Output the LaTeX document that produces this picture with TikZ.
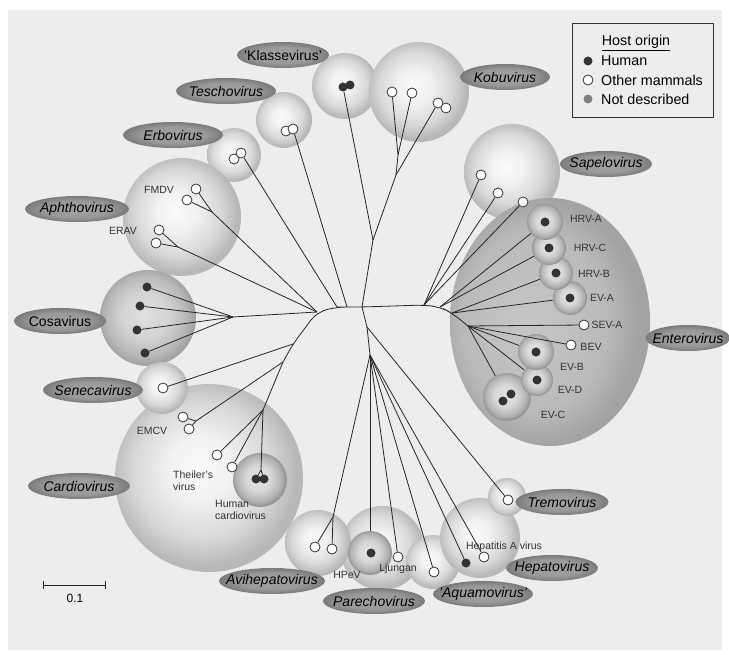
\documentclass[tikz,border=0pt]{standalone}
\usepackage{fontspec}
\setmainfont{Liberation Sans}
\usetikzlibrary{shapes}

\pgfdeclareradialshading{sphere}{\pgfpoint{-3bp}{3bp}}{color(0bp)=(black!2); color(8bp)=(black!5); color(18bp)=(black!15); color(25bp)=(black!28); color(50bp)=(black!28)}
\pgfdeclareradialshading{midsphere}{\pgfpoint{-2bp}{2bp}}{color(0bp)=(black!12); color(12bp)=(black!17); color(21bp)=(black!28); color(25bp)=(black!36); color(50bp)=(black!36)}
\pgfdeclareradialshading{subsphere}{\pgfpoint{-2bp}{2bp}}{color(0bp)=(black!10); color(12bp)=(black!16); color(21bp)=(black!30); color(25bp)=(black!42); color(50bp)=(black!42)}
\pgfdeclareradialshading{entero}{\pgfpoint{-6bp}{0bp}}{color(0bp)=(black!22); color(18bp)=(black!27); color(25bp)=(black!36); color(50bp)=(black!36)}
\pgfdeclareradialshading{tagshade}{\pgfpoint{0bp}{0bp}}{color(0bp)=(black!36); color(16bp)=(black!40); color(25bp)=(black!52); color(50bp)=(black!52)}
\newcommand{\cladename}[1]{\makebox[0pt]{#1}}

\begin{document}
\begin{tikzpicture}[x=1pt, y=-1pt]
\tikzstyle{spherer}=[circle, inner sep=0pt, shade, shading=sphere]
\tikzstyle{subspherer}=[circle, inner sep=0pt, shade, shading=subsphere]
\tikzstyle{tagc}=[ellipse, inner sep=0pt, minimum height=26pt, shade, shading=tagshade, font=\fontsize{14}{17}\selectfont]
\tikzstyle{leafh}=[circle, fill=black!80, inner sep=0pt, minimum size=9pt]
\tikzstyle{leafo}=[circle, draw=black!80, fill=white, line width=0.8pt, inner sep=0pt, minimum size=10pt]
\tikzstyle{leafn}=[circle, fill=black!50, inner sep=0pt, minimum size=9pt]
\tikzstyle{namec}=[font=\fontsize{10.5}{12}\selectfont, text=black!80, inner sep=0pt]
\tikzstyle{legc}=[font=\fontsize{14.3}{17}\selectfont, inner sep=0pt]
\tikzstyle{drawstyle}=[line width=0.8pt, black!85]

% background
\fill[white] (0,0) rectangle (729,655);
\fill[black!7] (8,10) rectangle (722,650);
\useasboundingbox (0,0) rectangle (729,655);

% clade spheres
\node[spherer, minimum size=66pt] (SKla) at (345,86) {};
\node[spherer, minimum size=100pt] (SKob) at (419,92) {};
\node[spherer, minimum size=56pt] (STes) at (284,120) {};
\node[spherer, minimum size=54pt] (SErb) at (234,155) {};
\node[spherer, minimum size=118pt] (SAph) at (182,217) {};
\node[spherer, minimum size=188pt] (SCar) at (209,478) {};
\node[subspherer, minimum size=54pt] (SHca) at (260,480) {};
\node[circle, inner sep=0pt, shade, shading=midsphere, minimum size=96pt] (SCos) at (148,318) {};
\node[spherer, minimum size=52pt] (SSen) at (162,388) {};
\node[spherer, minimum size=84pt] (SPar) at (382,548) {};
\node[spherer, minimum size=66pt] (SAvi) at (318,543) {};
\node[subspherer, minimum size=44pt] (SHpe) at (370,553) {};
\node[spherer, minimum size=54pt] (SAqu) at (433,562) {};
\node[spherer, minimum size=80pt] (SHep) at (480,538) {};
\node[spherer, minimum size=38pt] (STre) at (507,497) {};
\node[spherer, minimum size=96pt] (SSap) at (512,172) {};
\node[ellipse, inner sep=0pt, shade, shading=entero, minimum width=200pt, minimum height=248pt] (SEnt) at (550,322) {};

% clade names
\node[tagc, minimum width=92pt] (TKla) at (283,55) {\cladename{'Klassevirus'}};
\node[tagc, minimum width=100pt] (TTes) at (226,91) {\cladename{\itshape Teschovirus}};
\node[tagc, minimum width=100pt] (TErb) at (173,135) {\cladename{\itshape Erbovirus}};
\node[tagc, minimum width=104pt] (TAph) at (77,209) {\cladename{\itshape Aphthovirus}};
\node[tagc, minimum width=92pt] (TCos) at (60,321) {\cladename{Cosavirus}};
\node[tagc, minimum width=100pt] (TSen) at (93,390) {\cladename{\itshape Senecavirus}};
\node[tagc, minimum width=102pt] (TCar) at (79,486) {\cladename{\itshape Cardiovirus}};
\node[tagc, minimum width=106pt] (TAvi) at (272,581) {\cladename{\itshape Avihepatovirus}};
\node[tagc, minimum width=102pt] (TPar) at (374,601) {\cladename{\itshape Parechovirus}};
\node[tagc, minimum width=100pt] (TAqu) at (483,594) {\cladename{\itshape 'Aquamovirus'}};
\node[tagc, minimum width=92pt] (THep) at (552,568) {\cladename{\itshape Hepatovirus}};
\node[tagc, minimum width=93pt] (TTre) at (562,502) {\cladename{\itshape Tremovirus}};
\node[tagc, minimum width=85pt] (TEnt) at (688,338) {\cladename{\itshape Enterovirus}};
\node[tagc, minimum width=92pt] (TSap) at (606,164) {\cladename{\itshape Sapelovirus}};
\node[tagc, minimum width=90pt] (TKob) at (505,77) {\cladename{\itshape Kobuvirus}};

% enterovirus species spheres
\node[subspherer, minimum size=48pt] (EVC) at (507,397) {};
\node[subspherer, minimum size=32pt] (EVD) at (537,380) {};
\node[subspherer, minimum size=36pt] (EVB) at (536,352) {};
\node[subspherer, minimum size=34pt] (EVA) at (570,298) {};
\node[subspherer, minimum size=34pt] (HRVB) at (556,273) {};
\node[subspherer, minimum size=34pt] (HRVC) at (549,248) {};
\node[subspherer, minimum size=36pt] (HRVA) at (545,222) {};

% leaves
\node[leafh] (Kla1) at (343,87) {};
\node[leafh] (Kla2) at (350,85) {};
\node[leafo] (Kob1) at (392,92) {};
\node[leafo] (Kob2) at (412,93) {};
\node[leafo] (Kob3) at (438,103) {};
\node[leafo] (Kob4) at (446,108) {};
\node[leafo] (Tes1) at (286,131) {};
\node[leafo] (Tes2) at (293,129) {};
\node[leafo] (Erb1) at (234,159) {};
\node[leafo] (Erb2) at (241,153) {};
\node[leafo] (Fmd1) at (196,189) {};
\node[leafo] (Fmd2) at (187,200) {};
\node[leafo] (Era1) at (159,230) {};
\node[leafo] (Era2) at (156,243) {};
\node[leafh] (Cos1) at (147,287) {};
\node[leafh] (Cos2) at (140,306) {};
\node[leafh] (Cos3) at (137,330) {};
\node[leafh] (Cos4) at (145,353) {};
\node[leafo] (Sen1) at (163,388) {};
\node[leafo] (Emc1) at (183,417) {};
\node[leafo] (Emc2) at (189,429) {};
\node[leafo] (The1) at (217,455) {};
\node[leafo] (The2) at (232,467) {};
\node[leafh] (Hca1) at (256,479) {};
\node[leafh] (Hca2) at (264,479) {};
\node[leafo] (Avi1) at (315,547) {};
\node[leafo] (Avi2) at (332,549) {};
\node[leafh] (Hpe1) at (371,553) {};
\node[leafo] (Lju1) at (398,557) {};
\node[leafo] (Aqu1) at (434,572) {};
\node[leafh] (Hep1) at (466,563) {};
\node[leafo] (Hep2) at (484,557) {};
\node[leafo] (Tre1) at (508,500) {};
\node[leafo] (Sap1) at (481,175) {};
\node[leafo] (Sap2) at (498,193) {};
\node[leafo] (Sap3) at (523,202) {};
\node[leafh] (HRVAd) at (545,222) {};
\node[leafh] (HRVCd) at (549,248) {};
\node[leafh] (HRVBd) at (556,273) {};
\node[leafh] (EVAd) at (570,298) {};
\node[leafo] (SEVA) at (584,325) {};
\node[leafo] (BEV) at (571,345) {};
\node[leafh] (EVBd) at (536,352) {};
\node[leafh] (EVDd) at (537,380) {};
\node[leafh] (EVC1) at (503,401) {};
\node[leafh] (EVC2) at (511,394) {};

% inner nodes of the tree
\coordinate (nA) at (317,312);
\coordinate (nB) at (337,307);
\coordinate (nT) at (347,307);
\coordinate (nC) at (362,307);
\coordinate (nK) at (373,240);
\coordinate (nKb) at (396,175);
\coordinate (nKa) at (398,155);
\coordinate (nF) at (212,212);
\coordinate (nEr) at (178,247);
\coordinate (nCos) at (233,317);
\coordinate (nS) at (293,344);
\coordinate (nM) at (283,362);
\coordinate (nEm) at (196,421);
\coordinate (nTh) at (263,410);
\coordinate (nHc) at (261,470);
\coordinate (nD) at (367,327);
\coordinate (nD2) at (370,355);
\coordinate (nAv) at (333,517);
\coordinate (nR) at (424,305);
\coordinate (nE1) at (440,307);
\coordinate (nE2) at (452,313);
\coordinate (nE3) at (468,326);

% backbone
\draw[drawstyle, rounded corners=10pt] (nM) -- (nS) -- (nA) -- (nB) -- (nT) -- (nC) -- (nR) -- (nE1) -- (nE2) -- (nE3);

% branches
\draw[drawstyle] (nA) -- (nF);
\draw[drawstyle] (nF) -- (Fmd1);
\draw[drawstyle] (nF) -- (Fmd2);
\draw[drawstyle] (nA) -- (nEr);
\draw[drawstyle] (nEr) -- (Era1);
\draw[drawstyle] (nEr) -- (Era2);
\draw[drawstyle] (nA) -- (nCos);
\draw[drawstyle] (nCos) -- (Cos1);
\draw[drawstyle] (nCos) -- (Cos2);
\draw[drawstyle] (nCos) -- (Cos3);
\draw[drawstyle] (nCos) -- (Cos4);
\draw[drawstyle] (nB) -- (Erb2);
\draw[drawstyle] (nT) -- (Tes2);
\draw[drawstyle] (nC) -- (nK);
\draw[drawstyle] (nK) -- (Kla1);
\draw[drawstyle] (nK) -- (nKb);
\draw[drawstyle] (nKb) -- (nKa);
\draw[drawstyle] (nKa) -- (Kob1);
\draw[drawstyle] (nKa) -- (Kob2);
\draw[drawstyle] (nKb) -- (Kob3);
\draw[drawstyle] (nS) -- (Sen1);
\draw[drawstyle] (nM) -- (nEm);
\draw[drawstyle] (nEm) -- (Emc1);
\draw[drawstyle] (nEm) -- (Emc2);
\draw[drawstyle] (nM) -- (nTh);
\draw[drawstyle] (nTh) -- (The1);
\draw[drawstyle] (nTh) -- (The2);
\draw[drawstyle] (nTh) -- (nHc);
\draw[drawstyle] (nHc) -- (Hca1);
\draw[drawstyle] (nHc) -- (Hca2);
\draw[drawstyle] (nC) -- (nD);
\draw[drawstyle] (nD) -- (Tre1);
\draw[drawstyle] (nD) -- (nD2);
\draw[drawstyle] (nD2) -- (nAv);
\draw[drawstyle] (nAv) -- (Avi1);
\draw[drawstyle] (nAv) -- (Avi2);
\draw[drawstyle] (nD2) -- (SHpe);
\draw[drawstyle] (nD2) -- (Lju1);
\draw[drawstyle] (nD2) -- (Aqu1);
\draw[drawstyle] (nD2) -- (Hep1);
\draw[drawstyle] (nD2) -- (Hep2);
\draw[drawstyle] (nR) -- (Sap1);
\draw[drawstyle] (nR) -- (Sap2);
\draw[drawstyle] (nR) -- (Sap3);
\draw[drawstyle] (nE1) -- (HRVA);
\draw[drawstyle] (nE1) -- (HRVC);
\draw[drawstyle] (nE2) -- (HRVB);
\draw[drawstyle] (nE2) -- (EVA);
\draw[drawstyle] (nE3) -- (SEVA);
\draw[drawstyle] (nE3) -- (BEV);
\draw[drawstyle] (nE3) -- (EVB);
\draw[drawstyle] (nE3) -- (EVD);
\draw[drawstyle] (nE3) -- (EVC);

% leaf names
\node[namec] (tFMDV) at (159,190) {FMDV};
\node[namec] (tERAV) at (123,231) {ERAV};
\node[namec] (tEMCV) at (152,431) {EMCV};
\node[namec, anchor=west, align=left] (tThe) at (173,481) {Theiler's\\virus};
\node[namec, anchor=west, align=left] (tHca) at (215,510) {Human\\cardiovirus};
\node[namec] (tHPeV) at (347,575) {HPeV};
\node[namec] (tLju) at (398,569) {Ljungan};
\node[namec] (tHep) at (504,547) {Hepatitis A virus};
\node[namec] (tHRVA) at (586,219) {HRV-A};
\node[namec] (tHRVC) at (590,248) {HRV-C};
\node[namec] (tHRVB) at (594,274) {HRV-B};
\node[namec] (tEVA) at (602,298) {EV-A};
\node[namec] (tSEVA) at (607,325) {SEV-A};
\node[namec] (tBEV) at (591,347) {BEV};
\node[namec] (tEVB) at (572,367) {EV-B};
\node[namec] (tEVD) at (570,390) {EV-D};
\node[namec] (tEVC) at (553,415) {EV-C};

% legend
\node[draw=black!80, line width=0.8pt, minimum width=141pt, minimum height=94pt, inner sep=0pt] (Legend) at (642.5,70) {};
\node[legc] (LegT) at (636,43) {\underline{Host origin}};
\node[leafh] (LegH) at (588,61) {};
\node[legc, anchor=west] (LegHt) at (601,61) {Human};
\node[leafo] (LegO) at (588,80) {};
\node[legc, anchor=west] (LegOt) at (601,80) {Other mammals};
\node[leafn] (LegN) at (588,99) {};
\node[legc, anchor=west] (LegNt) at (601,99) {Not described};

% scale bar
\coordinate (SB0) at (43,585);
\coordinate (SB1) at (105,585);
\draw[drawstyle] (SB0) -- (SB1);
\draw[drawstyle] (SB0) ++(0,-4) -- ++(0,8);
\draw[drawstyle] (SB1) ++(0,-4) -- ++(0,8);
\node[font=\fontsize{12}{14}\selectfont] (SBt) at (75,598) {0.1};
\end{tikzpicture}
\end{document}
